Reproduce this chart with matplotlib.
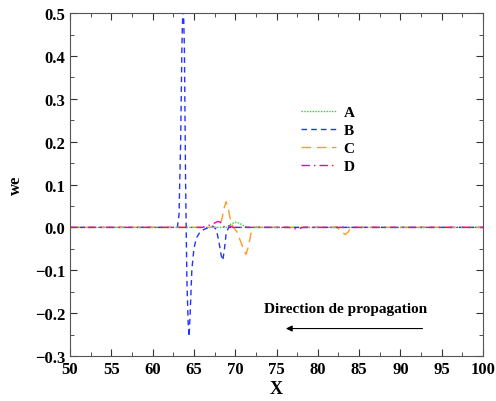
import numpy as np
import matplotlib
matplotlib.use("Agg")
import matplotlib.pyplot as plt
from matplotlib.ticker import MultipleLocator

plt.rcParams['font.family'] = ['Liberation Serif', 'DejaVu Serif']
plt.rcParams['font.weight'] = 'bold'

# --- data ---
xa = [50, 69.0, 69.5, 70.0, 70.5, 71.0, 71.5, 100]
ya = [0, 0, 0.008, 0.012, 0.010, 0.004, 0, 0]

xb = [50, 63.0, 63.2, 63.4, 63.55, 63.7, 63.85, 64.0, 64.15, 64.3, 64.42, 64.55,
      64.75, 65.0, 65.3, 65.7, 66.2, 66.8, 67.3, 67.7, 68.0, 68.3, 68.5, 68.7,
      68.9, 69.2, 100]
yb = [0, 0, 0.03, 0.2, 0.42, 0.54, 0.42, 0.1, -0.12, -0.22, -0.255, -0.2,
      -0.1, -0.05, -0.025, -0.012, -0.005, 0.0, 0.003, -0.005, -0.03, -0.065,
      -0.077, -0.05, -0.015, 0, 0]

xc = [50, 67.8, 68.1, 68.4, 68.65, 68.9, 69.2, 69.5, 69.8, 70.2, 70.6, 71.0,
      71.3, 71.6, 71.9, 72.3, 82.3, 82.8, 83.3, 83.7, 84.0, 100]
yc = [0, 0, 0.005, 0.02, 0.045, 0.06, 0.04, 0.01, 0.0, -0.01, -0.03, -0.05,
      -0.063, -0.045, -0.015, 0, 0, -0.008, -0.017, -0.01, 0, 0]

xd = [50, 66.0, 66.5, 67.0, 67.5, 67.9, 68.2, 68.5, 68.8, 69.3, 69.7,
      76.5, 77.0, 77.6, 78.2, 100]
yd = [0, 0, 0.003, 0.006, 0.010, 0.014, 0.012, 0.003, 0, 0.004, 0,
      0, -0.003, -0.004, 0, 0]

fig = plt.figure(figsize=(4.96, 4.02), dpi=100)
ax = fig.add_axes([0.141, 0.112, 0.833, 0.853])

ax.plot(xa, ya, color='#22dd22', linestyle=(0, (1, 1)), linewidth=1.0, label='A')
ax.plot(xb, yb, color='#2233ff', linestyle=(0, (4, 3)), linewidth=1.0, label='B')
ax.plot(xc, yc, color='#ff9922', linestyle=(0, (7, 4)), linewidth=1.0, label='C')
ax.plot(xd, yd, color='#ee00bb', linestyle=(0, (6, 3, 1, 3)), linewidth=1.0, label='D')

ax.set_xlim(50, 100)
ax.set_ylim(-0.3, 0.5)
ax.xaxis.set_major_locator(MultipleLocator(5))
ax.xaxis.set_minor_locator(MultipleLocator(2.5))
ax.yaxis.set_major_locator(MultipleLocator(0.1))
ax.yaxis.set_minor_locator(MultipleLocator(0.05))


def yfmt(v, pos):
    if abs(v) < 1e-9:
        return '0.0'
    s = '%.1f' % abs(v)
    return ('\u2212' + s) if v < 0 else s


ax.yaxis.set_major_formatter(plt.FuncFormatter(yfmt))
ax.tick_params(which='both', direction='in', top=True, right=True, labelsize=12, color='#333333')
ax.tick_params(which='major', length=5)
ax.tick_params(which='minor', length=3)
for lab in ax.get_xticklabels() + ax.get_yticklabels():
    lab.set_fontweight('bold')
for s in ax.spines.values():
    s.set_color('#555555')

ax.set_xlabel('X', fontsize=13, fontweight='bold', labelpad=2)
ax.set_ylabel('we', fontsize=12, fontweight='bold', labelpad=8)

leg = ax.legend(loc='upper left', bbox_to_anchor=(0.525, 0.77), frameon=False,
                handlelength=2.3, fontsize=11, labelspacing=0.28, handletextpad=0.5)
for t in leg.get_texts():
    t.set_fontweight('bold')

ax.text(83.3, -0.19, 'Direction de propagation', ha='center', va='center',
        fontsize=11, fontweight='bold')
ax.annotate('', xy=(75.8, -0.236), xytext=(93.0, -0.236),
            arrowprops=dict(arrowstyle='-|>', color='black', lw=0.8,
                            mutation_scale=9))

fig.savefig('out.png', dpi=100)
